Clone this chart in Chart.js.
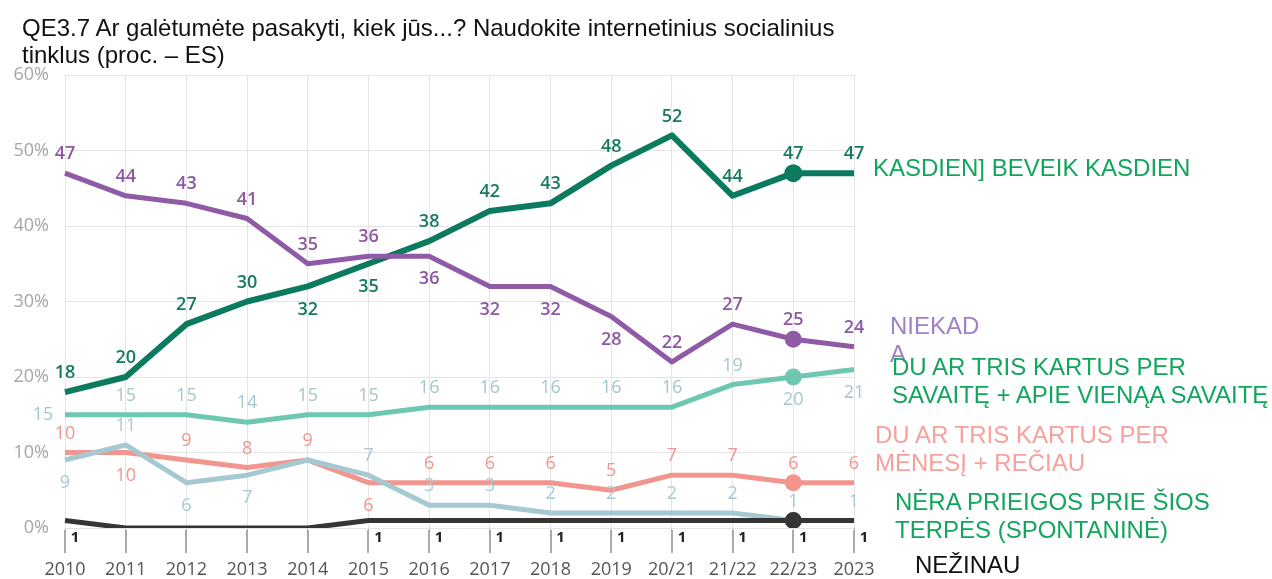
<!DOCTYPE html>
<html>
<head>
<meta charset="utf-8">
<script src="https://cdn.jsdelivr.net/npm/chart.js@4.4.1/dist/chart.umd.min.js"></script>
<style>
  html,body{margin:0;padding:0;background:#fff;}
  #wrap{position:relative;width:1272px;height:579px;}
  canvas{position:absolute;left:0;top:0;}
  .t{position:absolute;font-family:"Liberation Sans",Arial,sans-serif;white-space:nowrap;}
  .title{left:22px;top:14px;font-size:24px;line-height:27px;color:#111;}
  .lab{font-size:24px;line-height:28px;}
</style>
</head>
<body>
<div id="wrap">
  <canvas id="c" width="1272" height="579"></canvas>
  <div class="t title">QE3.7 Ar galėtumėte pasakyti, kiek jūs...? Naudokite internetinius socialinius<br>tinklus (proc. – ES)</div>
  <div class="t lab" style="left:873px;top:154px;color:#12a55c;">KASDIEN] BEVEIK KASDIEN</div>
  <div class="t lab" style="left:890px;top:312px;color:#a080c6;">NIEKAD<br>A</div>
  <div class="t lab" style="left:892px;top:353px;color:#12a55c;">DU AR TRIS KARTUS PER<br>SAVAITĘ + APIE VIENĄA SAVAITĘ</div>
  <div class="t lab" style="left:875px;top:421px;color:#f6a19c;">DU AR TRIS KARTUS PER<br>MĖNESĮ + REČIAU</div>
  <div class="t lab" style="left:895px;top:488px;color:#12a55c;">NĖRA PRIEIGOS PRIE ŠIOS<br>TERPĖS (SPONTANINĖ)</div>
  <div class="t lab" style="left:915px;top:551px;color:#111;">NEŽINAU</div>
</div>
<script>
const years = ['2010','2011','2012','2013','2014','2015','2016','2017','2018','2019','20/21','21/22','22/23','2023'];
const yTicks = [0,10,20,30,40,50,60];

const kasdien   = [18,20,27,30,32,35,38,42,43,48,52,44,47,47];
const niekada   = [47,44,43,41,35,36,36,32,32,28,22,27,25,24];
const savaite   = [15,15,15,14,15,15,16,16,16,16,16,19,20,21];
const menesi    = [10,10,9,8,9,6,6,6,6,5,7,7,6,6];
const neraPrieigos = [9,11,6,7,9,7,3,3,2,2,2,2,1,1];
const nezinau   = [1,0,0,0,0,1,1,1,1,1,1,1,1,1];

// where each value label sits: a = above, b = below, l = left, r = beside tick, n = none
const kasdienPos = ['a','a','a','a','b','b','a','a','a','a','a','a','a','a'];
const niekadaPos = ['a','a','a','a','a','a','b','b','b','b','a','a','a','a'];
const savaitePos = ['l','a','a','a','a','a','a','a','a','a','a','a','b','b'];
const menesiPos  = ['a','b','a','a','a','b','a','a','a','a','a','a','a','a'];
const neraPos    = ['b','a','b','b','n','a','a','a','a','a','a','a','a','a'];
const nezinauPos = ['r','n','n','n','n','r','r','r','r','r','r','r','r','r'];

const markerAt = 12;

function ds(label, data, color, width, pos, labColor, font){
  return {label, data, borderColor:color, backgroundColor:color, borderWidth:width,
    tension:0, fill:false, pointRadius:ctx=>ctx.dataIndex===markerAt?6:0, pointHoverRadius:0,
    borderJoinStyle:'round', labPos:pos, labColor, labFont:font};
}

// small tick marks under the 0% line
const tickMarks = {
  id:'tickMarks',
  afterDraw(chart){
    const c = chart.ctx, x = chart.scales.x, b = chart.chartArea.bottom;
    c.save();
    c.strokeStyle = '#aaaaaa'; c.lineWidth = 2;
    for(let i = 0; i < years.length; i++){
      const px = Math.round(x.getPixelForValue(i));
      c.beginPath(); c.moveTo(px, b + 2); c.lineTo(px, b + 25); c.stroke();
    }
    c.restore();
  }
};

const valueLabels = {
  id:'valueLabels',
  afterDatasetsDraw(chart){
    const c = chart.ctx;
    chart.data.datasets.forEach((d,i)=>{
      const meta = chart.getDatasetMeta(i);
      c.save();
      c.fillStyle = d.labColor; c.font = d.labFont;
      c.textAlign = 'center'; c.textBaseline = 'middle';
      meta.data.forEach((p,j)=>{
        const pos = d.labPos[j];
        if(pos==='n') return;
        let x = p.x, y = p.y;
        if(pos==='a') y -= 19;
        else if(pos==='b') y += 23;
        else if(pos==='l') x -= 22;
        else if(pos==='r'){ x += 10; y += 17; }
        c.fillText(String(d.data[j]), x, y);
      });
      c.restore();
    });
  }
};

const boldFont = '600 18px "Open Sans", sans-serif';
const lightFont = '18px "Open Sans", sans-serif';

new Chart(document.getElementById('c'), {
  type:'line',
  data:{ labels: years, datasets:[
    ds('NEŽINAU', nezinau, '#353535', 5, nezinauPos, '#222', '700 15px "Open Sans", sans-serif'),
    ds('NĖRA PRIEIGOS', neraPrieigos, '#a6c8d0', 5, neraPos, '#a9c9d1', lightFont),
    ds('MĖNESĮ', menesi, '#f2958f', 5, menesiPos, '#f1958f', lightFont),
    ds('SAVAITĘ', savaite, '#6ec8b1', 5, savaitePos, '#a3c6ce', lightFont),
    ds('NIEKADA', niekada, '#8f5ba6', 5, niekadaPos, '#8c5aa3', boldFont),
    ds('KASDIEN', kasdien, '#0c7a5e', 6, kasdienPos, '#167a62', boldFont),
  ]},
  options:{
    responsive:false, animation:false, events:[],
    layout:{padding:{left:8, top:75, right:418, bottom:0}},
    plugins:{legend:{display:false}, tooltip:{enabled:false}},
    scales:{
      x:{ offset:false,
        grid:{color:'#e4e4e4', tickLength:24, tickColor:'#aaa'},
        border:{display:false},
        ticks:{color:'#555', font:{size:18, family:'"Open Sans", sans-serif'}, padding:7, maxRotation:0, autoSkip:false},
        afterFit:s=>{ s.height = 51; }
      },
      y:{ min:0, max:60,
        afterBuildTicks:s=>{ s.ticks = yTicks.map(v=>({value:v})); },
        grid:{color:'#e4e4e4', drawTicks:false},
        border:{display:false},
        ticks:{color:'#a5a5a5', font:{size:18, family:'"Open Sans", sans-serif'}, padding:16, callback:v=>v+'%'},
        afterFit:s=>{ s.width = 57; }
      }
    }
  },
  plugins:[valueLabels, tickMarks]
});
</script>
</body>
</html>
